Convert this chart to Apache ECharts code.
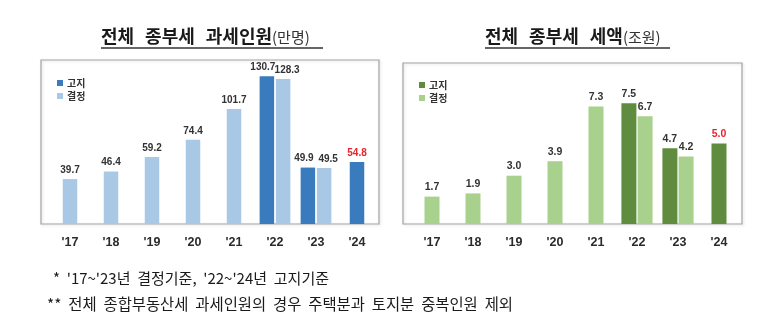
<!DOCTYPE html>
<html>
<head>
<meta charset="utf-8">
<script src="https://cdn.jsdelivr.net/npm/echarts@6/dist/echarts.min.js"></script>
<style>
html,body{margin:0;padding:0;background:#fff;}
#chart{width:773px;height:327px;}
</style>
</head>
<body>
<div id="chart"></div>
<script>
// ---- data ----
const years = ["'17", "'18", "'19", "'20", "'21", "'22", "'23", "'24"];
// 과세인원 (만명)
const peopleDecided = [39.7, 46.4, 59.2, 74.4, 101.7, 128.3, 49.5, null];
const peopleNotice  = [null, null, null, null, null, 130.7, 49.9, 54.8];
// 세액 (조원)
const taxDecided = [1.7, 1.9, 3.0, 3.9, 7.3, 6.7, 4.2, null];
const taxNotice  = [null, null, null, null, null, 7.5, 4.7, 5.0];
const titles = ['전체 종부세 과세인원', '전체 종부세 세액'];
const units = ['(만명)', '(조원)'];
const notes = ["*  '17~'23년  결정기준,  '22~'24년  고지기준",
               "**  전체  종합부동산세  과세인원의  경우  주택분과  토지분  중복인원  제외"];

const C = {
  blueDark: '#3a7bbd', blueLight: '#a8c8e6',
  greenDark: '#5f8c3f', greenLight: '#a9d18e',
  red: '#e8232b', text: '#2b2b2b'
};

// split into single-bar years and paired years
function singleOnly(a, b) { return a.map((v, i) => (v != null && b[i] == null) ? v : null); }
function paired(a, b) { return a.map((v, i) => (v != null && b[i] != null) ? v : null); }

const valLabel = (size, dx) => ({
  show: true, position: 'top', distance: 4, offset: [dx || 0, 0],
  fontFamily: 'Liberation Sans', fontWeight: 'bold', fontSize: size, color: '#333',
  formatter: (p) => Number(p.value).toFixed(1)
});
const lastRed = (arr) => arr.map((v, i) => (v != null && i === arr.length - 1)
  ? { value: v, label: { color: C.red } } : v);

function buildChart(k, decided, notice, dark, light, yMax, bw, gapPct, fs, dx) {
  const xa = k * 2, ya = k;
  const series = [
    { name: '결정', type: 'bar', xAxisIndex: xa, yAxisIndex: ya, stack: 's' + k,
      barWidth: bw, data: singleOnly(decided, notice), itemStyle: { color: light },
      label: valLabel(fs) },
    { name: '고지', type: 'bar', xAxisIndex: xa, yAxisIndex: ya, stack: 's' + k,
      barWidth: bw, data: lastRed(singleOnly(notice, decided)), itemStyle: { color: dark },
      label: valLabel(fs) },
    { name: '고지', type: 'bar', xAxisIndex: xa + 1, yAxisIndex: ya,
      barWidth: bw, barGap: gapPct, data: paired(notice, decided), itemStyle: { color: dark },
      label: valLabel(fs, -dx) },
    { name: '결정', type: 'bar', xAxisIndex: xa + 1, yAxisIndex: ya,
      barWidth: bw, barGap: gapPct, data: paired(decided, notice), itemStyle: { color: light },
      label: valLabel(fs, dx) }
  ];
  const xAxes = [
    { type: 'category', gridIndex: k, data: years, position: 'bottom',
      axisLine: { show: false }, axisTick: { show: false },
      axisLabel: { margin: 12, fontFamily: 'Liberation Sans', fontWeight: 'bold', fontSize: 12.5, color: C.text } },
    { type: 'category', gridIndex: k, data: years, show: false }
  ];
  const yAxis = { type: 'value', gridIndex: k, min: 0, max: yMax, show: false, splitLine: { show: false } };
  return { series, xAxes, yAxis };
}

const L = buildChart(0, peopleDecided, peopleNotice, C.blueDark, C.blueLight, 145, 14.5, '12%', 10, 4);
const R = buildChart(1, taxDecided, taxNotice, C.greenDark, C.greenLight, 10, 15, '8%', 10.5, 0);

const legendBase = (left, top, dark, light) => ({
  orient: 'vertical', left: left, top: top, itemWidth: 6, itemHeight: 6, itemGap: 3,
  icon: 'rect', selectedMode: false,
  textStyle: { fontFamily: 'Noto Sans CJK KR', fontWeight: 'bold', fontSize: 10, color: '#333', padding: [0, 0, 0, -1] },
  data: [{ name: '고지', itemStyle: { color: dark } }, { name: '결정', itemStyle: { color: light } }]
});

function titleGraphic(x, y, idx, lineEnd) {
  return [
    { type: 'text', left: x, top: y, style: {
        text: '{b|' + titles[idx].split(' ').join('}{s|}{b|') + '}{u|' + units[idx] + '}',
        rich: {
          b: { fontFamily: 'Noto Sans CJK KR', fontWeight: 'bold', fontSize: 18, fill: '#1a1a1a', verticalAlign: 'bottom', lineHeight: 20 },
          s: { width: 11, fontSize: 18, lineHeight: 20 },
          u: { fontFamily: 'Noto Sans CJK KR', fontSize: 15, fill: '#333', verticalAlign: 'bottom', lineHeight: 19 }
        } } },
    { type: 'line', shape: { x1: x, y1: 48, x2: lineEnd, y2: 48 }, style: { stroke: '#333', lineWidth: 1.4 } }
  ];
}

const option = {
  animation: false,
  backgroundColor: '#fff',
  grid: [
    { left: 49.5, right: 395.5, top: 60, bottom: 103 },
    { left: 411.5, right: 33.5, top: 63, bottom: 103 }
  ],
  xAxis: [...L.xAxes, ...R.xAxes],
  yAxis: [L.yAxis, R.yAxis],
  legend: [legendBase(52, 73, C.blueDark, C.blueLight), legendBase(414, 75, C.greenDark, C.greenLight)],
  series: [...L.series, ...R.series],
  graphic: [
    { type: 'rect', shape: { x: 41, y: 60, width: 338, height: 164 }, z: -1,
      style: { fill: 'none', stroke: '#a3a3a3', lineWidth: 1.2, shadowBlur: 3, shadowColor: 'rgba(0,0,0,0.15)', shadowOffsetX: 1, shadowOffsetY: 1 } },
    { type: 'rect', shape: { x: 403, y: 63, width: 339, height: 161 }, z: -1,
      style: { fill: 'none', stroke: '#a3a3a3', lineWidth: 1.2, shadowBlur: 3, shadowColor: 'rgba(0,0,0,0.15)', shadowOffsetX: 1, shadowOffsetY: 1 } },
    ...titleGraphic(101, 26, 0, 323),
    ...titleGraphic(485, 26, 1, 670),
    { type: 'text', left: 53, top: 271, style: { text: notes[0], fontFamily: 'Noto Sans CJK KR', fontSize: 15, fill: '#1a1a1a' } },
    { type: 'text', left: 47, top: 296, style: { text: notes[1], fontFamily: 'Noto Sans CJK KR', fontSize: 15.4, fill: '#1a1a1a' } }
  ]
};

const chart = echarts.init(document.getElementById('chart'), null, { renderer: 'canvas' });
chart.setOption(option);
</script>
</body>
</html>
